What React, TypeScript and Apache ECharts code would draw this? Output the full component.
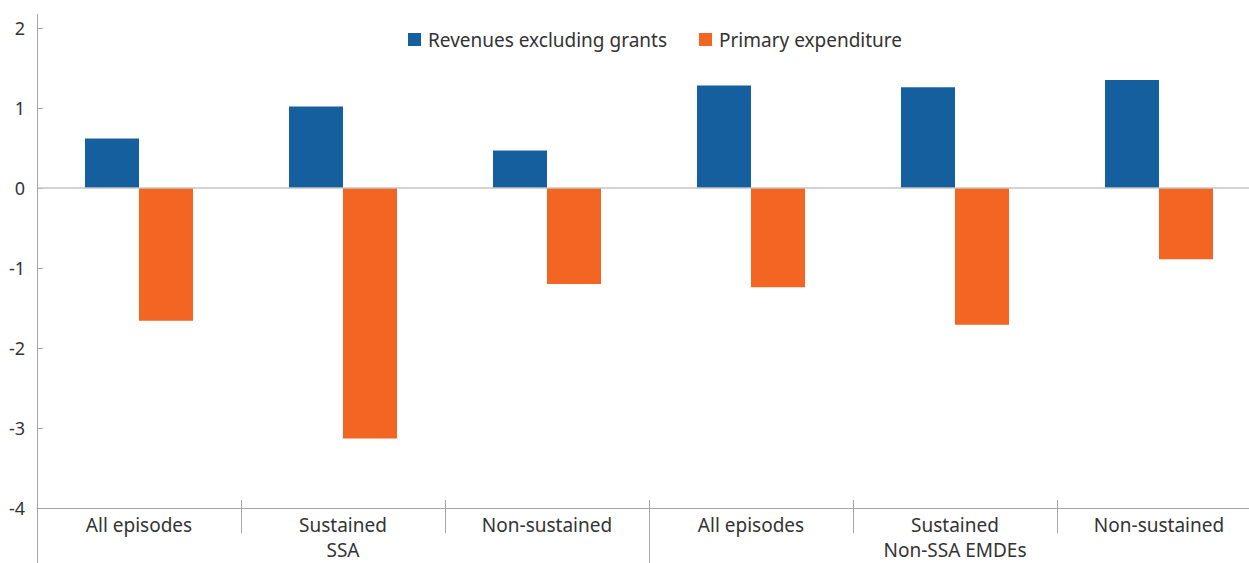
import React, { useEffect, useRef } from "react";
import * as echarts from "echarts";

const categories = ["All episodes", "Sustained", "Non-sustained", "All episodes", "Sustained", "Non-sustained"];
const groups = ["SSA", "Non-SSA EMDEs"];
const revenues = [0.62, 1.02, 0.47, 1.28, 1.26, 1.35];
const expenditure = [-1.66, -3.13, -1.2, -1.24, -1.71, -0.89];
const seriesNames = ["Revenues excluding grants", "Primary expenditure"];

const BLUE = "#155F9E";
const ORANGE = "#F26522";
const AXIS = "#A6A6A6";
const TEXT = "#333333";
const FONT = "'Noto Sans', sans-serif";

export default function App() {
  const ref = useRef<HTMLDivElement>(null);
  useEffect(() => {
    if (!ref.current) return;
    const chart = echarts.init(ref.current, null, { renderer: "svg" });
    const gridLeft = 37;
    const gridTop = 28;
    const gridW = 1224;
    const gridH = 480;
    chart.setOption({
      animation: false,
      textStyle: { fontFamily: FONT },
      legend: {
        left: 403,
        top: 25,
        itemWidth: 13,
        itemHeight: 13,
        itemGap: 32,
        icon: "rect",
        textStyle: { fontSize: 19, color: TEXT, fontFamily: FONT, padding: [0, 0, 0, 2] },
        data: seriesNames,
      },
      grid: { left: gridLeft, top: gridTop, width: gridW, height: gridH },
      xAxis: [
        {
          type: "category",
          data: categories,
          position: "bottom",
          axisLine: { show: true, onZero: false, lineStyle: { color: AXIS, width: 1 } },
          axisTick: { show: true, length: 25, lineStyle: { color: AXIS } },
          axisLabel: { fontSize: 19, color: TEXT, margin: 7, fontFamily: FONT, interval: 0 },
          splitLine: { show: false },
        },
        {
          type: "category",
          data: groups,
          position: "bottom",
          axisLine: { show: false, onZero: false },
          axisTick: { show: true, length: 55, lineStyle: { color: AXIS } },
          axisLabel: { fontSize: 19, color: TEXT, margin: 32, fontFamily: FONT, interval: 0 },
          splitLine: { show: false },
        },
        {
          type: "category",
          data: categories,
          position: "bottom",
          axisLine: { show: false, onZero: false },
          axisTick: { show: true, inside: true, length: 8, lineStyle: { color: AXIS } },
          axisLabel: { show: false },
          splitLine: { show: false },
        },
      ],
      yAxis: {
        type: "value",
        min: -4,
        max: 2,
        interval: 1,
        axisLine: { show: false },
        axisTick: { show: true, inside: true, length: 6, lineStyle: { color: AXIS } },
        axisLabel: { fontSize: 18, color: TEXT, margin: 12, fontFamily: FONT },
        splitLine: { show: false },
      },
      graphic: [
        {
          type: "line",
          shape: { x1: gridLeft + 0.5, y1: 14, x2: gridLeft + 0.5, y2: 563 },
          style: { stroke: AXIS, lineWidth: 1 },
          z: 10,
        },
      ],
      series: [
        {
          name: seriesNames[0],
          type: "bar",
          data: revenues,
          barWidth: 54,
          barGap: "0%",
          itemStyle: { color: BLUE },
          markLine: {
            silent: true,
            symbol: "none",
            label: { show: false },
            lineStyle: { color: "#C4C4C4", type: "solid", width: 1.5 },
            data: [{ yAxis: 0 }],
          },
        },
        {
          name: seriesNames[1],
          type: "bar",
          data: expenditure,
          barWidth: 54,
          barGap: "0%",
          itemStyle: { color: ORANGE },
        },
      ],
    });
    return () => chart.dispose();
  }, []);
  return (
    <div style={{ position: "absolute", left: 0, top: 0, width: 1249, height: 563, overflow: "hidden" }}>
      <div ref={ref} style={{ width: 1261, height: 563 }} />
    </div>
  );
}
